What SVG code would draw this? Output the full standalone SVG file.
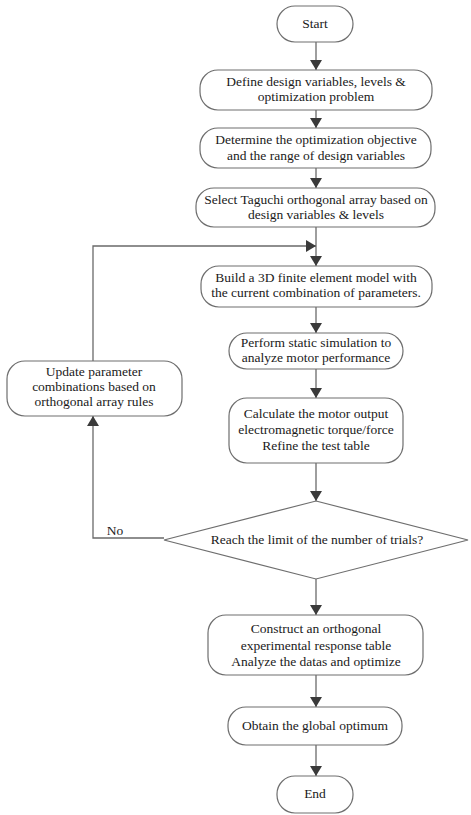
<svg xmlns="http://www.w3.org/2000/svg" width="471" height="815" viewBox="0 0 471 815">
<style>
.box{fill:#fff;stroke:#6e6e6e;stroke-width:1.2}
.t{font-family:"Liberation Serif","Times New Roman",serif;font-size:13.5px;fill:#1a1a1a;text-anchor:middle}
.c{fill:none;stroke:#6a6a6a;stroke-width:1.3}
</style>
<defs>
<marker id="ah" viewBox="0 0 10 12" refX="10" refY="6" markerWidth="10" markerHeight="12" markerUnits="userSpaceOnUse" orient="auto">
<path d="M0,0 L10,6 L0,12 Z" fill="#3a3a3a"/>
</marker>
</defs>
<rect width="471" height="815" fill="#fff"/>
<g id="connectors">
<line class="c" x1="316" y1="42" x2="316" y2="70" marker-end="url(#ah)"/>
<line class="c" x1="316" y1="110" x2="316" y2="128" marker-end="url(#ah)"/>
<line class="c" x1="316" y1="168" x2="316" y2="188" marker-end="url(#ah)"/>
<line class="c" x1="316" y1="227" x2="316" y2="266" marker-end="url(#ah)"/>
<polyline class="c" points="93,361 93,246 316,246" marker-end="url(#ah)"/>
<line class="c" x1="316" y1="307" x2="316" y2="333" marker-end="url(#ah)"/>
<line class="c" x1="316" y1="369" x2="316" y2="398" marker-end="url(#ah)"/>
<line class="c" x1="316" y1="463" x2="316" y2="501" marker-end="url(#ah)"/>
<polyline class="c" points="164,538 93,538 93,416" marker-end="url(#ah)"/>
<line class="c" x1="316" y1="579" x2="316" y2="615" marker-end="url(#ah)"/>
<line class="c" x1="316" y1="675" x2="316" y2="707" marker-end="url(#ah)"/>
<line class="c" x1="316" y1="745" x2="316" y2="776" marker-end="url(#ah)"/>
<text class="t" x="115" y="535">No</text>
</g>
<g id="start">
<rect class="box" x="277" y="6" width="76" height="36" rx="18"/>
<text class="t" x="315" y="28">Start</text>
</g>
<g id="define">
<rect class="box" x="200" y="70" width="232" height="40" rx="18"/>
<text class="t" x="316" y="86">Define design variables, levels &amp;</text>
<text class="t" x="316" y="101">optimization problem</text>
</g>
<g id="determine">
<rect class="box" x="200" y="128" width="231" height="40" rx="18"/>
<text class="t" x="316" y="144">Determine the optimization objective</text>
<text class="t" x="316" y="160">and the range of design variables</text>
</g>
<g id="select">
<rect class="box" x="196" y="188" width="239" height="39" rx="18"/>
<text class="t" x="316" y="204">Select Taguchi orthogonal array based on</text>
<text class="t" x="316" y="219">design variables &amp; levels</text>
</g>
<g id="build">
<rect class="box" x="201" y="266" width="231" height="41" rx="18"/>
<text class="t" x="316" y="282">Build a 3D finite element model with</text>
<text class="t" x="316" y="297">the current combination of parameters.</text>
</g>
<g id="perform">
<rect class="box" x="229" y="333" width="174" height="36" rx="18"/>
<text class="t" x="316" y="347">Perform static simulation to</text>
<text class="t" x="316" y="362">analyze motor performance</text>
</g>
<g id="calculate">
<rect class="box" x="229" y="398" width="174" height="65" rx="18"/>
<text class="t" x="316" y="418">Calculate the motor output</text>
<text class="t" x="316" y="434">electromagnetic torque/force</text>
<text class="t" x="316" y="450">Refine the test table</text>
</g>
<g id="update">
<rect class="box" x="7" y="361" width="175" height="55" rx="18"/>
<text class="t" x="94" y="376">Update parameter</text>
<text class="t" x="94" y="391">combinations based on</text>
<text class="t" x="94" y="406">orthogonal array rules</text>
</g>
<g id="decision">
<polygon class="box" points="316,501 468,540 316,579 164,540"/>
<text class="t" x="317" y="544">Reach the limit of the number of trials?</text>
</g>
<g id="construct">
<rect class="box" x="208" y="615" width="215" height="60" rx="18"/>
<text class="t" x="316" y="633">Construct an orthogonal</text>
<text class="t" x="316" y="650">experimental response table</text>
<text class="t" x="316" y="666">Analyze the datas and optimize</text>
</g>
<g id="obtain">
<rect class="box" x="228" y="707" width="174" height="38" rx="18"/>
<text class="t" x="315" y="730">Obtain the global optimum</text>
</g>
<g id="end">
<rect class="box" x="277" y="776" width="76" height="37" rx="18"/>
<text class="t" x="315" y="798">End</text>
</g>
</svg>
